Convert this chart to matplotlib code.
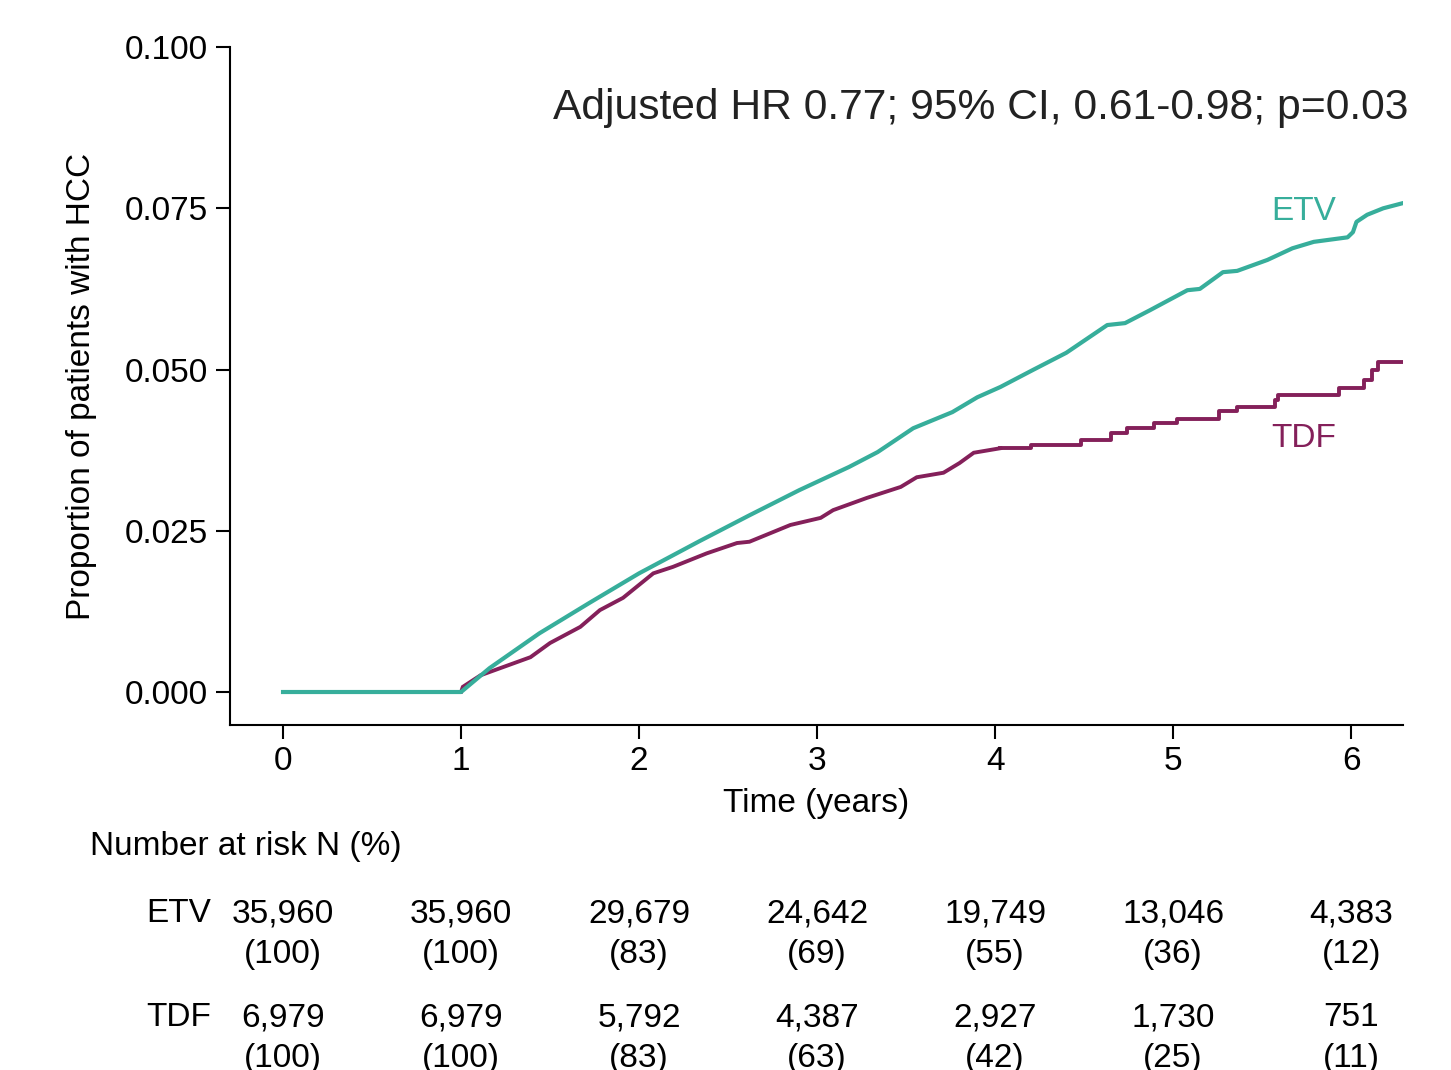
import numpy as np
import matplotlib
matplotlib.use("Agg")
import matplotlib.pyplot as plt
import matplotlib.transforms as mtransforms

plt.rcParams['font.family'] = ['Liberation Sans', 'DejaVu Sans']

# Cumulative incidence
etv_t = [0.0, 1.0, 1.16, 1.44, 1.72, 2.0, 2.34, 2.62, 2.90, 3.18, 3.34, 3.54, 3.76,
         3.90, 4.03, 4.21, 4.40, 4.63, 4.73, 4.87, 5.08, 5.15, 5.28, 5.36, 5.53,
         5.67, 5.79, 5.98, 6.01, 6.03, 6.09, 6.18, 6.29]
etv_p = [0.0, 0.0, 0.0037, 0.0091, 0.0138, 0.0184, 0.0234, 0.0274, 0.0313, 0.0349,
         0.0372, 0.0409, 0.0434, 0.0457, 0.0473, 0.0499, 0.0526, 0.0569, 0.0572,
         0.0592, 0.0623, 0.0625, 0.0651, 0.0653, 0.0670, 0.0688, 0.0698, 0.0705,
         0.0713, 0.0729, 0.0740, 0.0750, 0.0758]

# TDF: dense small steps up to ~4 years (drawn as a line), visible steps after
tdf_t = [0.0, 1.0, 1.01, 1.11, 1.22, 1.39, 1.50, 1.67, 1.78, 1.91, 2.08, 2.19, 2.38,
         2.55, 2.62, 2.85, 3.02, 3.09, 3.28, 3.47, 3.56, 3.71, 3.80, 3.88, 4.03]
tdf_p = [0.0, 0.0, 0.0008, 0.0026, 0.0037, 0.0054, 0.0076, 0.0101, 0.0127, 0.0146,
         0.0184, 0.0194, 0.0215, 0.0231, 0.0233, 0.0259, 0.0270, 0.0282, 0.0301,
         0.0318, 0.0333, 0.0340, 0.0355, 0.0371, 0.0378]
tdf_late_t = [4.03, 4.20, 4.48, 4.65, 4.74, 4.89, 5.02, 5.26, 5.36, 5.57, 5.59,
              5.93, 6.07, 6.12, 6.15, 6.29]
tdf_late_p = [0.0378, 0.0383, 0.0391, 0.0401, 0.0409, 0.0417, 0.0423, 0.0436,
              0.0442, 0.0453, 0.0460, 0.0471, 0.0484, 0.0499, 0.0512, 0.0512]

# Number at risk table
risk_years = [0, 1, 2, 3, 4, 5, 6]
etv_n = ["35,960", "35,960", "29,679", "24,642", "19,749", "13,046", "4,383"]
etv_pct = ["(100)", "(100)", "(83)", "(69)", "(55)", "(36)", "(12)"]
tdf_n = ["6,979", "6,979", "5,792", "4,387", "2,927", "1,730", "751"]
tdf_pct = ["(100)", "(100)", "(83)", "(63)", "(42)", "(25)", "(11)"]

etv_color = "#37ae9b"
tdf_color = "#84205a"

fig = plt.figure(figsize=(14.51, 10.70), dpi=100)
ax = fig.add_axes([0.1585, 0.3224, 0.8085, 0.6336])

ax.plot(tdf_t, tdf_p, color=tdf_color, lw=2.8, solid_joinstyle="miter")
ax.plot(tdf_late_t, tdf_late_p, drawstyle="steps-post", color=tdf_color, lw=2.8)
ax.plot(etv_t, etv_p, color=etv_color, lw=3.0)

ax.set_xlim(-0.298, 6.292)
ax.set_ylim(-0.00512, 0.1)
ax.set_xticks(range(7))
ax.set_yticks([0.0, 0.025, 0.05, 0.075, 0.1])
ax.set_yticklabels(["0.000", "0.025", "0.050", "0.075", "0.100"])
ax.tick_params(labelsize=24, length=10, width=1.5, pad=5)
ax.tick_params(axis="y", pad=6)
for s in ["top", "right"]:
    ax.spines[s].set_visible(False)
for s in ["left", "bottom"]:
    ax.spines[s].set_linewidth(1.5)

ax.set_xlabel("Time (years)", fontsize=24, labelpad=8)
ax.set_ylabel("Proportion of patients with HCC", fontsize=24, labelpad=20)

ax.text(6.32, 0.0905, "Adjusted HR 0.77; 95% CI, 0.61-0.98; p=0.03",
        fontsize=30.7, ha="right", va="center", color="#222222")
ax.text(5.55, 0.0745, "ETV", fontsize=24, color=etv_color, va="center")
ax.text(5.55, 0.0393, "TDF", fontsize=24, color=tdf_color, va="center")

fig.text(90 / 1451, 1 - 846 / 1070, "Number at risk N (%)", fontsize=24, va="center")

trans = mtransforms.blended_transform_factory(ax.transData, fig.transFigure)
rows = [(etv_n, 914), (etv_pct, 954), (tdf_n, 1018), (tdf_pct, 1058)]
for vals, py in rows:
    for x, v in zip(risk_years, vals):
        fig.text(x, 1 - py / 1070, v, transform=trans, fontsize=24,
                 ha="center", va="center")
fig.text(211 / 1451, 1 - 914 / 1070, "ETV", fontsize=24, ha="right", va="center")
fig.text(211 / 1451, 1 - 1018 / 1070, "TDF", fontsize=24, ha="right", va="center")

fig.savefig("out.png", dpi=100)
